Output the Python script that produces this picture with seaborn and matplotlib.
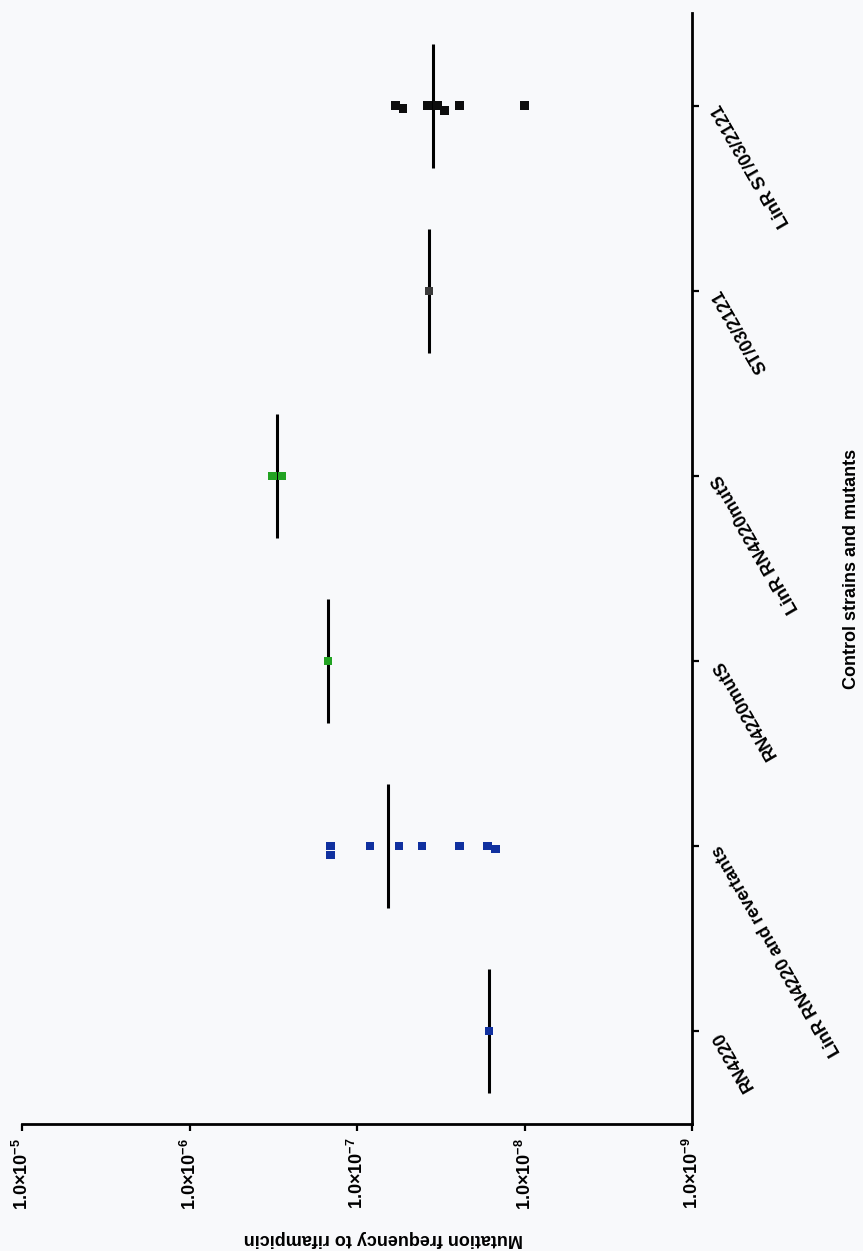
import numpy as np
import pandas as pd
import seaborn as sns
import matplotlib.pyplot as plt
from matplotlib.ticker import NullLocator

sns.set_style("ticks")
plt.rcParams['font.family'] = ['Liberation Sans', 'DejaVu Sans']
plt.rcParams['font.weight'] = 'bold'
plt.rcParams['mathtext.fontset'] = 'custom'
plt.rcParams['mathtext.rm'] = 'Liberation Sans:bold'
plt.rcParams['mathtext.it'] = 'Liberation Sans:bold'
plt.rcParams['mathtext.bf'] = 'Liberation Sans:bold'
plt.rcParams['mathtext.default'] = 'rm'

# Data
strains = ["RN4220", "LinR RN4220 and revertants", "RN4220mutS",
           "LinR RN4220mutS", "ST/03/2121", "LinR ST/03/2121"]
rn4220 = [1.64e-8]
linr_rn4220 = [1.44e-7, 1.44e-7, 8.4e-8, 5.6e-8, 4.1e-8, 2.44e-8, 1.66e-8, 1.49e-8]
rn4220_muts = [1.50e-7]
linr_rn4220_muts = [3.2e-7, 2.8e-7]
st_03_2121 = [3.7e-8]
linr_st_03_2121 = [5.9e-8, 5.3e-8, 3.8e-8, 3.3e-8, 3.0e-8, 2.44e-8, 1.0e-8]
groups = [rn4220, linr_rn4220, rn4220_muts, linr_rn4220_muts, st_03_2121, linr_st_03_2121]
strain_colors = ["#10309f", "#10309f", "#22a322", "#22a322", "#3a3a3a", "#0d0d0d"]

freq_ticks = [1e-5, 1e-6, 1e-7, 1e-8, 1e-9]
freq_tick_labels = ["1.0×10$^{-5}$", "1.0×10$^{-6}$", "1.0×10$^{-7}$",
                    "1.0×10$^{-8}$", "1.0×10$^{-9}$"]

df = pd.DataFrame({
    'strain': np.repeat(strains, [len(g) for g in groups]),
    'freq': np.concatenate(groups),
})

# Plot (page is rotated 90 degrees, as in the scan)
bg = '#f8f9fb'
fig = plt.figure(figsize=(8.63, 12.51), dpi=100, facecolor=bg)
ax = fig.add_axes([22/863, 127/1251, 670/863, 1111/1251], facecolor=bg)

sns.swarmplot(data=df, x='freq', y='strain', hue='strain', order=strains,
              hue_order=strains, palette=strain_colors, orient='h', marker='s',
              size=6, linewidth=0, legend=False, log_scale=True, ax=ax)

# mean lines
means = [np.mean(g) for g in groups]
pos = np.arange(len(strains))
ax.vlines(means, pos - 0.335, pos + 0.335, color='black', lw=2.2)

ax.set_xlim(1e-5, 1e-9)
ax.set_ylim(-0.5, 5.5)
ax.set_xticks(freq_ticks)
ax.set_xticklabels(freq_tick_labels, rotation=90)
ax.xaxis.set_minor_locator(NullLocator())
ax.yaxis.tick_right()

for s in ['left', 'top']:
    ax.spines[s].set_visible(False)
for s in ['bottom', 'right']:
    ax.spines[s].set_linewidth(2)
    ax.spines[s].set_color('black')

ax.tick_params(axis='both', direction='out', length=5, width=1.6, labelsize=13,
               color='black', labelcolor='black')
ax.tick_params(axis='x', pad=5)
ax.tick_params(axis='y', pad=13)
for lab in ax.get_yticklabels():
    lab.set(rotation=120, ha='right', va='center', rotation_mode='anchor')

ax.set_xlabel('Mutation frequency to rifampicin', rotation=180, fontsize=13,
              fontweight='bold', color='black')
ax.xaxis.set_label_coords(0.539, -0.0954)
ax.set_ylabel('Control strains and mutants', rotation=90, fontsize=13,
              fontweight='bold', color='black')
ax.yaxis.set_label_position('right')
ax.yaxis.label.set(ha='center', va='center')
ax.yaxis.set_label_coords(1.2388, 0.5)

fig.savefig('out.png', dpi=100, facecolor=bg)
